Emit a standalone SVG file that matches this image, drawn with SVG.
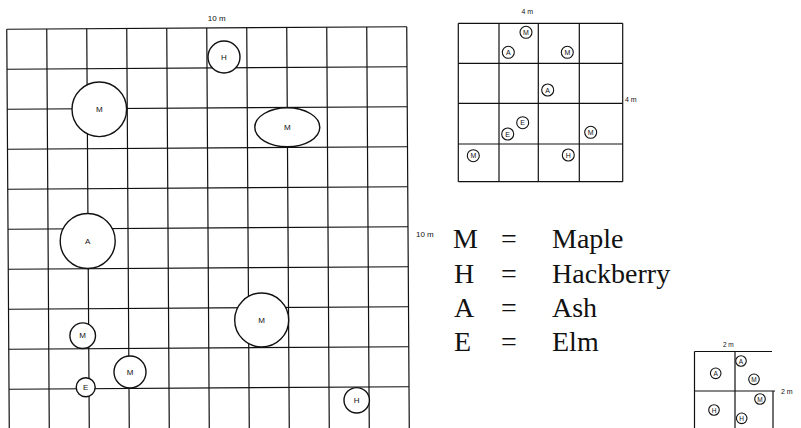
<svg xmlns="http://www.w3.org/2000/svg" width="801" height="428" viewBox="0 0 801 428">
<style>
.g{stroke:#111;stroke-width:1.2;fill:none}
.t{stroke:#111;stroke-width:1.4;fill:#fff}
.ts{stroke:#111;stroke-width:1.1;fill:#fff}
.lb{font-family:"Liberation Sans",Arial,sans-serif;font-size:8px;fill:#111;text-anchor:middle;dominant-baseline:central}
.ls{font-family:"Liberation Sans",Arial,sans-serif;font-size:7px;fill:#111;text-anchor:middle;dominant-baseline:central}
.lt{font-family:"Liberation Sans",Arial,sans-serif;font-size:6.5px;fill:#111;text-anchor:middle;dominant-baseline:central}
.dim{font-family:"Liberation Sans",Arial,sans-serif;font-size:8px;fill:#111;dominant-baseline:central}
.lg{font-family:"Liberation Serif","Times New Roman",serif;font-size:28px;fill:#111}
</style>
<rect width="801" height="428" fill="#fff"/>

<g id="plot-10m">
<g transform="rotate(-0.36 208 228)">
<path class="g" d="M8 28V440M48 28V440M88 28V440M128 28V440M168 28V440M208 28V440M248 28V440M288 28V440M328 28V440M368 28V440M408 28V440"/>
<path class="g" d="M8 28H408M8 68H408M8 108H408M8 148H408M8 188H408M8 228H408M8 268H408M8 308H408M8 348H408M8 388H408"/>
</g>
<text class="dim" x="216.7" y="18.5" text-anchor="middle">10 m</text>
<text class="dim" x="416" y="234">10 m</text>
<g id="t1"><circle class="t" cx="224" cy="57" r="16"/><text class="lb" x="224" y="57">H</text></g>
<g id="t2"><circle class="t" cx="99.3" cy="109.3" r="27.3"/><text class="lb" x="99.3" y="109.3">M</text></g>
<g id="t3"><ellipse class="t" cx="287.3" cy="127.3" rx="32.5" ry="19.5"/><text class="lb" x="287.3" y="127.3">M</text></g>
<g id="t4"><circle class="t" cx="87.7" cy="241" r="27.5"/><text class="lb" x="87.7" y="241">A</text></g>
<g id="t5"><circle class="t" cx="261.7" cy="320" r="27"/><text class="lb" x="261.7" y="320">M</text></g>
<g id="t6"><circle class="t" cx="82.7" cy="335.7" r="12.8"/><text class="lb" x="82.7" y="335.7">M</text></g>
<g id="t7"><circle class="t" cx="130" cy="372" r="16"/><text class="lb" x="130" y="372">M</text></g>
<g id="t8"><circle class="t" cx="85.7" cy="387.3" r="9.5"/><text class="lb" x="85.7" y="387.3">E</text></g>
<g id="t9"><circle class="t" cx="356.7" cy="400.3" r="12.7"/><text class="lb" x="356.7" y="400.3">H</text></g>
</g>

<g id="plot-4m">
<path class="g" d="M458.3 23.3V181.7M499 23.3V181.7M538.3 23.3V181.7M579.3 23.3V181.7M622.7 23.3V181.7"/>
<path class="g" d="M458.3 23.3H622.7M458.3 63.3H622.7M458.3 103.3H622.7M458.3 144H622.7M458.3 181.7H622.7"/>
<text class="dim" x="527.3" y="11.7" text-anchor="middle" style="font-size:7px">4 m</text>
<text class="dim" x="625" y="99.5" style="font-size:7px">4 m</text>
<g id="s1"><circle class="ts" cx="526" cy="32.3" r="6"/><text class="ls" x="526" y="32.3">M</text></g>
<g id="s2"><circle class="ts" cx="508.3" cy="52.3" r="6"/><text class="ls" x="508.3" y="52.3">A</text></g>
<g id="s3"><circle class="ts" cx="567.3" cy="52.3" r="6"/><text class="ls" x="567.3" y="52.3">M</text></g>
<g id="s4"><circle class="ts" cx="547.7" cy="90" r="6"/><text class="ls" x="547.7" y="90">A</text></g>
<g id="s5"><circle class="ts" cx="522.7" cy="122.7" r="6"/><text class="ls" x="522.7" y="122.7">E</text></g>
<g id="s6"><circle class="ts" cx="507.7" cy="134" r="6"/><text class="ls" x="507.7" y="134">E</text></g>
<g id="s7"><circle class="ts" cx="590.7" cy="132.3" r="6"/><text class="ls" x="590.7" y="132.3">M</text></g>
<g id="s8"><circle class="ts" cx="473.3" cy="155.7" r="6"/><text class="ls" x="473.3" y="155.7">M</text></g>
<g id="s9"><circle class="ts" cx="568.3" cy="155" r="6"/><text class="ls" x="568.3" y="155">H</text></g>
</g>

<g id="legend">
<text class="lg" x="453" y="248">M</text><text class="lg" x="501" y="248">=</text><text class="lg" x="552" y="248">Maple</text>
<text class="lg" x="454" y="283">H</text><text class="lg" x="501" y="283">=</text><text class="lg" x="552" y="283">Hackberry</text>
<text class="lg" x="454" y="317">A</text><text class="lg" x="501" y="317">=</text><text class="lg" x="552" y="317">Ash</text>
<text class="lg" x="454" y="351">E</text><text class="lg" x="501" y="351">=</text><text class="lg" x="552" y="351">Elm</text>
</g>

<g id="plot-2m">
<path class="g" d="M694.5 351.5V440M735 351.5V440M773 391V440M694.5 351.5H772M694.5 391H775"/>
<text class="dim" x="728.3" y="344" text-anchor="middle" style="font-size:6.5px">2 m</text>
<text class="dim" x="781" y="391" style="font-size:7px">2 m</text>
<g id="q1"><circle class="ts" cx="715.7" cy="373.3" r="5.3"/><text class="lt" x="715.7" y="373.3">A</text></g>
<g id="q2"><circle class="ts" cx="741" cy="361" r="5.3"/><text class="lt" x="741" y="361">A</text></g>
<g id="q3"><circle class="ts" cx="754" cy="379.3" r="5.3"/><text class="lt" x="754" y="379.3">M</text></g>
<g id="q4"><circle class="ts" cx="760" cy="399" r="5.3"/><text class="lt" x="760" y="399">M</text></g>
<g id="q5"><circle class="ts" cx="714" cy="410" r="5.3"/><text class="lt" x="714" y="410">H</text></g>
<g id="q6"><circle class="ts" cx="741.7" cy="418.3" r="5.3"/><text class="lt" x="741.7" y="418.3">H</text></g>
</g>
</svg>
